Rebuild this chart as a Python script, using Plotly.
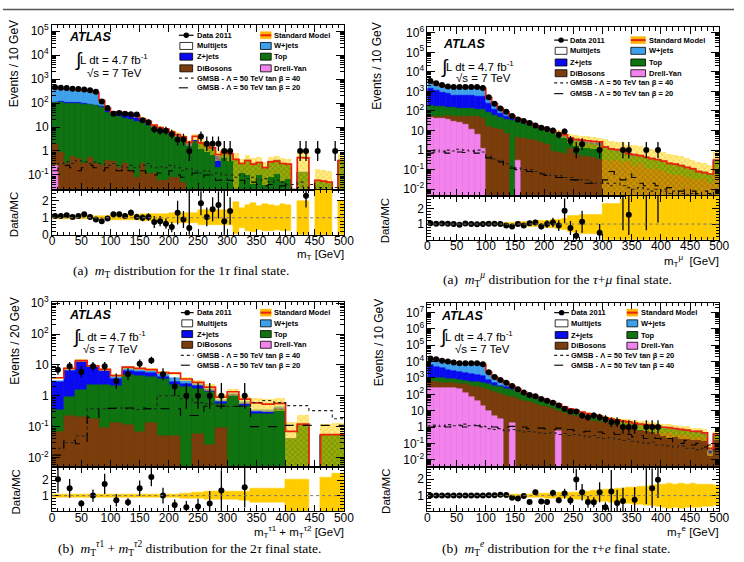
import numpy as np
import plotly.graph_objects as go

W, H = 744, 562
FONT = "Liberation Sans, Arial, sans-serif"
SERIF = "Liberation Serif, Times New Roman, serif"

C_DY = "#F283EE"
C_DB = "#7A3D0B"
C_TOP = "#0F730F"
C_Z = "#0A0AF0"
C_W = "#3E9FEA"
C_MJ = "#FFFFFF"
C_RED = "#E8230A"
C_BAND = "#FFCC00"

# ---------------- Panel 1 : m_T, 1 tau (10 GeV bins) ----------------
p1_dy = [0.25] + [0] * 49
p1_db = [1.6, 0.85, 0.3, 0.6, 0.5, 0.3, 0.55, 0.3, 0.25, 0.4,
         0.35, 0.2, 0.3, 0.15, 0.08, 0.3, 0.11, 0.11, 0.06, 0.06,
         0.08, 0.08, 0.05] + [0] * 27
p1_top = [103, 109, 100, 96, 96, 88, 84, 77, 66, 41,
          32, 28, 23, 20, 17, 14.7, 12, 9.3, 7.4, 6.4,
          4.9, 3.9, 3.2, 1.6, 2.5, 2.0, 1.5, 1.2, 0.2, 0.85,
          0.7, 0.45, 0.3, 0.4, 0.28, 0.33, 0.2, 0.35, 0.38, 0.3,
          0.28, 0, 0.13, 0.12, 0, 0.06, 0.055, 0.05, 0, 0.4]
p1_z = [4, 4, 4, 4, 4, 4, 4, 4, 5, 9,
        8, 10, 13, 12, 11, 6, 4, 2, 1.5, 1.3,
        0.8, 0.5, 0.3, 0.4, 0.2, 0.1, 0.1, 0.05, 0.4, 0.05] + [0] * 20
p1_w = [310, 285, 275, 270, 250, 240, 225, 190, 55, 8,
        2, 2, 2, 2, 1.5, 0.5, 0.5, 0.3, 0.2, 0.2,
        0.2, 0.1, 0.1, 0.1, 0.1] + [0] * 25
p1_mj = [5, 5, 5, 5, 5, 5, 5, 5, 3, 2,
         1, 1, 1, 1, 1, 0.5, 0.5, 0.3, 0.3, 0.3,
         0.3, 0.2, 0.2, 0.2, 1.3, 0.1, 0.1, 0.1, 0.1, 0.1,
         0.05, 0, 0, 0, 0, 0, 0, 0, 0, 0,
         0, 0, 0.4, 0.4, 0, 0, 0, 0, 0, 0]
p1_data = [460, 440, 430, 400, 385, 370, 345, 300, 117, 63,
           36, 39, 36, 34, 33, 19, 16, 8, 7, 7,
           5, 3, 3, 1, 0, 4, 2, 2, 2, 1,
           1, 0, 0, 0, 0, 0, 0, 0, 0, 0,
           0, 0, 1, 1, 0, 1, 0, 0, 1, 0]
p1_err = ([0.08] * 10 + [0.15] * 5 + [0.2] * 5 + [0.3] * 5 + [0.45] * 6 +
          [0.95, 0.6, 0.75, 0.85, 0.7, 0.8, 0.75, 0.7, 0.8, 0.75] +
          [0, 1.0, 1.0, 0, 2.0, 2.0, 2.0, 0, 1.0])
p1_ratio = ([1.1, 1.1, 1.15, 1.05, 1.1, 1.2, 1.05, 0.9, 0.8, 0.95,
             1.2, 1.2, 1.1, 1.3, 1.05, 1.0, 1.05, 0.75, 0.8, 0.65,
             0.45, 1.3, 0.9, 0.4, None, 1.85, 1.05, 1.5, 1.75, 0.8,
             1.4] + [None] * 12 + [2.3] + [None] * 6)
p1_rerr = ([0.05, 0.05, 0.05, 0.05, 0.06, 0.06, 0.06, 0.06, 0.08, 0.1,
            0.15, 0.15, 0.15, 0.18, 0.18, 0.2, 0.22, 0.35, 0.3, 0.3,
            0.3, 0.7, 0.5, 2.2, 0, 0.7, 0.55, 0.7, 0.8, 1.8,
            0.8] + [0] * 12 + [0.7] + [0] * 6)
p1_sig_a = [0.25, 0.3, 0.35, 0.3, 0.4, 0.35, 0.3, 0.35, 0.3, 0.25,
            0.3, 0.25, 0.2, 0.25, 0.2, 0.25, 0.3, 0.2, 0.22, 0.2,
            0.25, 0.2, 0.15, 0.18, 0.15, 0.12, 0.15, 0.1, 0.12, 0.1,
            0.1, 0.08, 0.1, 0.07, 0.08, 0.06, 0.07, 0.05, 0.06, 0.05,
            0.04, 0.04, 0.05, 0.03, 0.04, 0.03, 0.03, 0.02, 0.03, 0.02]
p1_sig_b = [0.15, 0.2, 0.25, 0.2, 0.15, 0.2, 0.25, 0.2, 0.15, 0.2,
            0.18, 0.15, 0.2, 0.15, 0.12, 0.15, 0.12, 0.1, 0.12, 0.1,
            0.15, 0.1, 0.08, 0.1, 0.12, 0.08, 0.1, 0.07, 0.06, 0.08,
            0.06, 0.05, 0.06, 0.04, 0.05, 0.04, 0.035, 0.04, 0.03, 0.035,
            0.03, 0.025, 0.03, 0.02, 0.025, 0.02, 0.02, 0.015, 0.02, 0.015]

# ---------------- Panel 2 : m_T^mu, tau+mu (10 GeV bins) ----------------
p2_dy = [45, 42, 40, 38, 30, 25, 20, 12, 6, 1.2, 0, 0, 0, 0, 0, 0.3] + [0] * 34
p2_db = [10, 12, 14, 18, 25, 30, 35, 40, 45, 40,
         16, 13, 11, 7.5, 0, 4.3, 3.8, 3.4, 3, 2.5,
         2, 0.9, 0.8, 0.7, 1.2, 0.6, 0.5, 0.5, 0.4, 0.35,
         0.3, 0.25, 0.3, 0.2, 0.25, 0.15, 0.2, 0.12, 0.1, 0.1,
         0.08, 0.06, 0.05, 0.05, 0.04, 0.03, 0.03, 0.03, 0.02, 0.05]
p2_top = [135, 126, 116, 104, 95, 85, 80, 78, 74, 79,
          64, 47, 34, 30, 32, 22, 18, 15, 11, 8.5,
          7, 6.6, 5.2, 3.8, 2.1, 2.2, 2.0, 1.7, 1.6, 1.45,
          0.9, 0.75, 0.6, 0.6, 0.35, 0.35, 0.25, 0.28, 0.25, 0.2,
          0.17, 0.14, 0.13, 0.1, 0.08, 0.07, 0.05, 0.04, 0.04, 0.25]
p2_z = [1210, 920, 730, 590, 500, 480, 465, 470, 455, 430,
        170, 60, 30, 17, 10, 7, 5, 3, 2, 1.5,
        1, 1, 0.8, 0.7, 0.4, 0.4, 0.3, 0.3, 0.3, 0.3,
        0.1, 0.08, 0.06, 0.05, 0.05, 0.04, 0.03, 0.03, 0.02, 0.02,
        0.02, 0.01, 0.01, 0.01, 0.01, 0.01, 0, 0, 0, 0.01]
p2_w = [1570, 1325, 1080, 935, 985, 1015, 1035, 1035, 1055, 885,
        225, 107, 58, 32, 13, 6.5, 3.7, 2.7, 1.8, 1.8,
        1.8, 0.9, 0.6, 0.7, 0.4, 0.25, 0.35, 0.45, 0.45, 0.45,
        0.15, 0.08, 0.1, 0.15, 0, 0.05, 0.04, 0, 0, 0] + [0] * 10
p2_mj = [30, 25, 20, 15, 15, 15, 15, 15, 15, 15,
         5, 3, 2, 1, 1, 0.5, 0.3, 0.3, 0.2, 0.2,
         0.2, 0.1, 0.1, 0.1, 0.1, 0.05, 0.05, 0.05, 0.05, 0.05] + [0] * 20
p2_data = [3400, 2600, 2100, 1800, 1700, 1700, 1700, 1700, 1700, 1500,
           500, 235, 133, 90, 55, 37, 31, 24, 18, 14,
           12, 10, 6, 9, 3, 1, 2, 0, 0, 1,
           0, 0, 0, 1, 1, 0, 0, 1, 0, 1] + [0] * 10
p2_err = ([0.04] * 10 +
          [0.06, 0.07, 0.08, 0.1, 0.1, 0.12, 0.14, 0.16, 0.18, 0.2,
           0.22, 0.25, 0.28, 0.35, 0.5, 0.55, 0.6, 0.6, 0.6, 0.6] +
          [1.3, 1.3, 1.3, 1.6] + [1.8] * 16)
p2_ratio = ([1.05, 1.02, 1.03, 1.02, 1.0, 0.95, 1.03, 1.0, 0.98, 1.0,
             1.02, 1.02, 1.0, 0.9, 0.85, 1.0, 0.9, 1.05, 1.1, 0.85,
             1.0, 1.1, 0.9, 1.85, 0.75, 0.25, 1.15, None, None, 0.45,
             None, None, None, 3.5, 1.6, None, None, 3.5, None, 3.5] + [None] * 10)
p2_rerr = ([0.02] * 10 +
           [0.04, 0.05, 0.06, 0.07, 0.08, 0.12, 0.14, 0.16, 0.18, 0.2,
            0.25, 0.3, 0.35, 0.8, 0.45, 0.35, 0.7, 0, 0, 0.55,
            0, 0, 0, 2.9, 1.3, 0, 0, 2.9, 0, 2.4] + [0] * 10)
p2_sig_a = [0.9, 1.0, 0.8, 1.0, 0.9, 1.1, 1.0, 0.9, 1.0, 0.8,
            0.5, 0.35, 0.3, 0.2, 0.15, 0.12, 0.1, 0.1, 0.08, 0.07,
            0.06, 0.05, 0.05, 0.04, 0.04, 0.03, 0.03, 0.03, 0.02, 0.02,
            0.02, 0.015, 0.02, 0.015, 0.012, 0.01, 0.012, 0.01, 0.008, 0.01,
            0.008, 0.006, 0.008, 0.006, 0.005, 0.006, 0.005, 0.004, 0.005, 0.004]
p2_sig_b = [0.7, 0.8, 0.9, 0.7, 0.85, 0.8, 0.75, 0.9, 0.7, 0.6,
            0.4, 0.3, 0.25, 0.15, 0.12, 0.1, 0.1, 0.08, 0.07, 0.06,
            0.05, 0.05, 0.04, 0.04, 0.03, 0.03, 0.03, 0.02, 0.02, 0.02,
            0.03, 0.08, 0.05, 0.03, 0.06, 0.04, 0.02, 0.015, 0.02, 0.015,
            0.01, 0.012, 0.01, 0.008, 0.01, 0.008, 0.006, 0.008, 0.006, 0.005]

# ---------------- Panel 3 : m_T1 + m_T2, 2 tau (20 GeV bins) ----------------
p3_dy = [0] * 25
p3_db = [0.07, 0.23, 0.2, 0.18, 0.09, 0.13, 0.11, 0.07, 0.13, 0.05,
         0.05, 0, 0.06, 0.025, 0.09] + [0] * 10
p3_top = [0.27, 0.67, 1.4, 2.1, 2.2, 2.0, 4.7, 4.4, 3.9, 3.35,
          2.25, 2.0, 1.55, 1.28, 0.46, 1.0, 0.48, 0.26, 0.26, 0.34,
          0.04, 0.11, 0, 0.055, 0.055]
p3_z = [2.4, 5.3, 11, 6.1, 4.2, 1.5, 1.7, 1.5, 1.3, 0.8,
        0.6, 0.5, 0.4, 0.2, 0.1, 0.05, 0.05, 0.03, 0.03, 0.03,
        0, 0, 0, 0, 0]
p3_w = [0.3, 0.8, 0.8, 0.6, 0.5, 0.6, 1.5, 1.2, 1.2, 0.9,
        1.0, 0.5, 0.4, 0.2, 0.1, 0.1, 0.1, 0.05, 0.05, 0.05,
        0, 0, 0, 0, 0]
p3_mj = [0.8, 0.7, 0.3, 0.3, 0.2, 0.3, 0.5, 0.5, 0.5, 0.5,
         1.5, 0.5, 0.3, 0.2, 0.15, 0.2, 0.15, 0.25, 0.2, 0.15,
         0.03, 0.01, 0, 0, 0]
p3_data = [7, 9, 6, 9, 9, 3, 5, 11, 14, 5, 2, 1, 1, 1, 1, 0, 1, 0, 0, 0, 0, 0, 0, 0, 0]
p3_err = [0.1] * 11 + [0.15, 0.2, 0.25, 0.25, 0.25, 0.3, 0.45, 0.45, 0.45] + [1.05, 1.05, 0, 1.2, 1.4]
p3_ratio = [2.05, 1.47, 0.5, 1.0, 1.75, 0.7, 0.58, 1.47, 2.2, 1.0,
            0.4, 0.25, 0.3, 0.5, 1.32, None, 1.53] + [None] * 8
p3_rerr = [0.85, 0.6, 0.2, 0.4, 0.65, 0.4, 0.25, 0.5, 0.6, 0.5,
           0.35, 0.4, 0.5, 0.8, 1.3, 0, 1.3] + [0] * 8
p3_sig_a = [0.02, 0.03, 0.05, 0.38, 0.38, 0.4, 0.38, 0.36, 0.38, 1.0,
            1.0, 0.8, 0.6, 0.55, 0.5, 0.45, 0.45, 0.6, 0.7, 0.6,
            0.48, 0.48, 0.33, 0.33, 0.18]
p3_sig_b = [0.012, 0.035, 0.028, 0.2, 0.39, 0.39, 0.4, 0.4, 0.38, 0.38,
            0.38, 0.23, 0.23, 0.46, 0.46, 0.46, 0.46, 0.1, 0.1, 0.1,
            0.11, 0.11, 0.11, 0.11, 0.11]

# ---------------- Panel 4 : m_T^e, tau+e (10 GeV bins) ----------------
p4_dy = [250, 250, 250, 250, 240, 200, 130, 65, 40, 20,
         10, 5, 3, 0, 1.7, 0, 0, 0, 0, 0, 0, 0, 0.55] + [0] * 27
p4_db = [310, 290, 270, 250, 240, 250, 290, 265, 260, 230,
         170, 135, 107, 85, 63, 50, 40, 32, 26, 20,
         16, 12, 9, 7, 5.5, 4.5, 3.6, 3, 2.5, 2.1,
         1.8, 1.3, 1.3, 0.9, 0.9, 0.7, 0.55, 0.6, 0.45, 0.5,
         0.4, 0.45, 0.3, 0.35, 0.3, 0.2, 0.25, 0.2, 0.02, 0.15]
p4_top = [490, 460, 430, 400, 370, 350, 280, 270, 250, 230,
          240, 190, 160, 140, 115, 85, 60, 38, 29, 20,
          16, 12, 8.5, 6, 4.5, 3.2, 2.6, 2.0, 1.7, 1.5,
          1.4, 1.4, 1.1, 1.1, 0.9, 0.8, 0.75, 0.6, 0.55, 0.45,
          0.45, 0.35, 0.4, 0.25, 0.25, 0.25, 0.2, 0.15, 0, 0.15]
p4_z = [4950, 4000, 3050, 2400, 1950, 1500, 1300, 1100, 950, 820,
        350, 150, 80, 50, 35, 25, 18, 13, 10, 8,
        6, 5, 4, 3, 2.2, 1.6, 1.2, 1.0, 0.9, 0.6,
        0.3, 0.25, 0.2, 0.2, 0.15, 0.15, 0.12, 0.1, 0.1, 0.08,
        0.07, 0.07, 0.06, 0.06, 0.05, 0.05, 0.04, 0.04, 0.02, 0.03]
p4_w = [9400, 8500, 7400, 6600, 5900, 5600, 5800, 6100, 6200, 5300,
        1530, 670, 390, 235, 115, 50, 17, 12, 10, 7,
        4, 3, 2, 1, 0.8, 0.7, 0.6, 0.5, 0.4, 0.3,
        0.1, 0.1, 0.1, 0.1, 0.1, 0.1, 0.1, 0.1, 0.1, 0.1,
        0.05, 0.05, 0.05, 0.05, 0.05, 0.05, 0.05, 0.05, 0.01, 0.05]
p4_mj = [100] * 10 + [20, 10, 8, 5, 3, 2, 1, 0.5, 0.4, 0.3,
                      0.2, 0.2, 0.1, 0.1, 0.1, 0.1, 0.1, 0.1, 0.05, 0.05] + [0] * 20
p4_data = [15700, 13700, 11400, 10000, 8700, 7900, 7900, 7900, 7900, 6900,
           2200, 1150, 740, 510, 325, 205, 130, 90, 75, 52,
           41, 30, 21, 13, 9, 9, 5, 4, 5, 4,
           3, 2, 2, 1, 1, 1, 0, 1, 1, 1] + [0] * 10
p4_err = ([0.02] * 14 + [0.08, 0.08, 0.1, 0.1, 0.12, 0.12, 0.14] +
          [0.15, 0.17, 0.18, 0.2, 0.22, 0.25, 0.27, 0.3, 0.32, 0.35] +
          [0.38, 0.42, 0.45, 0.48, 0.5, 0.55, 0.58, 0.6, 0.65, 0.7] +
          [0.75, 0.7, 0.75, 0.7, 0.72, 0.7, 0.68, 0.65, 0.6])
p4_ratio = ([1.0] * 10 +
            [1.02, 1.02, 1.05, 1.03, 0.87, 0.83, 0.98, 0.62, 1.2, 0.65,
             0.62, 1.15, 0.72, 1.12, 0.7, 1.97, 1.2, 0.62, 0.6, 1.2,
             0.3, 1.25, 0.55, 0.68, None, 0.75, None, 3.5, 1.45, 1.95] + [None] * 10)
p4_rerr = ([0.02] * 10 +
           [0.03, 0.03, 0.04, 0.05, 0.08, 0.1, 0.12, 0.1, 0.15, 0.12,
            0.15, 0.2, 0.18, 0.3, 0.25, 0.65, 0.5, 0.35, 0.3, 0.6,
            0.3, 1.3, 0.8, 0.8, 0, 0.75, 0, 3.0, 1.2, 1.1] + [0] * 10)
p4_sig_a = [1.2, 1.3, 1.1, 1.4, 1.2, 1.3, 1.5, 1.2, 1.3, 1.1,
            0.8, 0.7, 0.8, 0.6, 0.7, 0.6, 0.5, 0.55, 0.5, 0.45,
            0.4, 0.45, 0.35, 0.4, 0.3, 0.35, 0.3, 0.25, 0.3, 0.22,
            0.2, 0.22, 0.18, 0.15, 0.18, 0.13, 0.12, 0.1, 0.12, 0.08,
            0.08, 0.07, 0.06, 0.07, 0.05, 0.05, 0.04, 0.05, 0.03, 0.04]
p4_sig_b = [1.0, 1.1, 1.2, 1.0, 1.1, 1.2, 1.0, 1.1, 1.2, 1.0,
            1.1, 1.0, 0.9, 1.0, 1.1, 0.9, 1.0, 0.8, 0.9, 0.85,
            0.8, 0.7, 0.85, 0.6, 0.7, 0.6, 0.5, 0.55, 0.45, 0.5,
            0.4, 0.45, 0.35, 0.3, 0.35, 0.25, 0.3, 0.2, 0.25, 0.2,
            0.15, 0.2, 0.12, 0.1, 0.15, 0.08, 0.1, 0.06, 0.08, 0.05]

x_tick_labels = ["0", "50", "100", "150", "200", "250", "300", "350", "400", "450", "500"]
legend_labels = ["Data 2011", "Standard Model", "Multijets", "W+jets", "Z+jets", "Top",
                 "DiBosons", "Drell-Yan"]

GMSB = "GMSB - Λ = 50 TeV tan β = "

panels = [
    dict(L=50, R=347, T=17, M=187, B=233, yr=[-1.63, 5.28], dec=(-1, 5), rr=[0, 2.63], rt=[0, 1, 2],
         dy=p1_dy, db=p1_db, top=p1_top, z=p1_z, w=p1_w, mj=p1_mj, data=p1_data, err=p1_err,
         ratio=p1_ratio, rerr=p1_rerr, sa=p1_sig_a, sb=p1_sig_b, la="40", lb="20",
         ytitle="Events / 10 GeV", ytx=12, yty=57, rtx=12, rty=212,
         xtitle="m<sub>T</sub> [GeV]", xty=254,
         cap="(a)  <i>m</i><sub>T</sub> distribution for the 1<i>τ</i> final state.", capx=181, capy=271,
         rows=[11, 22, 33, 45, 55, 65], c1=(130, 143, 146), c2=(212, 223, 225),
         atl=(16, 13), integ=(22, 35), ldt=(27, 35), rs=(34, 50)),
    dict(L=432, R=729, T=20, M=193, B=238, yr=[-2.34, 6.27], dec=(-2, 6), rr=[0, 2.81], rt=[1, 2],
         dy=p2_dy, db=p2_db, top=p2_top, z=p2_z, w=p2_w, mj=p2_mj, data=p2_data, err=p2_err,
         ratio=p2_ratio, rerr=p2_rerr, sa=p2_sig_a, sb=p2_sig_b, la="40", lb="20",
         ytitle="Events / 10 GeV", ytx=381, yty=60, rtx=389, rty=219,
         xtitle="m<sub>T</sub><sup>μ</sup>  [GeV]", xty=260,
         cap="(a)  <i>m</i><sub>T</sub><sup><i>μ</i></sup> distribution for the <i>τ</i>+<i>μ</i> final state.",
         capx=564, capy=279,
         rows=[13, 24, 36, 47, 57, 68], c1=(130, 142, 144), c2=(207, 222, 224),
         atl=(15, 17), integ=(13, 40), ldt=(18, 40), rs=(28, 52)),
    dict(L=50, R=347, T=302, M=472, B=517, yr=[-2.32, 3.04], dec=(-2, 3), rr=[0, 2.81], rt=[1, 2],
         dy=p3_dy, db=p3_db, top=p3_top, z=p3_z, w=p3_w, mj=p3_mj, data=p3_data, err=p3_err,
         ratio=p3_ratio, rerr=p3_rerr, sa=p3_sig_a, sb=p3_sig_b, la="40", lb="20",
         ytitle="Events / 20 GeV", ytx=12, yty=342, rtx=13, rty=497,
         xtitle="m<sub>T</sub><sup>τ1</sup> + m<sub>T</sub><sup>τ2</sup> [GeV]", xty=538,
         cap="(b)  <i>m</i><sub>T</sub><sup><i>τ</i>1</sup> + <i>m</i><sub>T</sub><sup><i>τ</i>2</sup> distribution for the 2<i>τ</i> final state.",
         capx=190, capy=555,
         rows=[11, 22, 33, 44, 55, 65], c1=(132, 143, 146), c2=(212, 223, 225),
         atl=(16, 13), integ=(20, 35), ldt=(25, 35), rs=(30, 48)),
    dict(L=432, R=729, T=303, M=472, B=517, yr=[-2.47, 7.59], dec=(-2, 7), rr=[0.06, 2.7], rt=[1, 2],
         dy=p4_dy, db=p4_db, top=p4_top, z=p4_z, w=p4_w, mj=p4_mj, data=p4_data, err=p4_err,
         ratio=p4_ratio, rerr=p4_rerr, sa=p4_sig_a, sb=p4_sig_b, la="20", lb="40",
         ytitle="Events / 10 GeV", ytx=382, yty=344, rtx=390, rty=497,
         xtitle="m<sub>T</sub><sup>e</sup> [GeV]", xty=538,
         cap="(b)  <i>m</i><sub>T</sub><sup><i>e</i></sup> distribution for the <i>τ</i>+<i>e</i> final state.",
         capx=563, capy=555,
         rows=[10, 21, 33, 44, 54, 64], c1=(130, 143, 145), c2=(203, 214, 216),
         atl=(13, 13), integ=(12, 34), ldt=(17, 34), rs=(27, 47)),
]


def px(x):
    return x / W


def py(y):
    return 1 - y / H


def axname(n, letter):
    return f"{letter}axis" if n == 1 else f"{letter}axis{n}"


def axref(n, letter):
    return letter if n == 1 else f"{letter}{n}"


fig = go.Figure()
annotations = []
shapes = []
layout_axes = {}


def txt(x, y, s, size, xanchor="left", yanchor="middle", family=FONT, angle=0):
    annotations.append(dict(x=px(x), y=py(y), xref="paper", yref="paper", text=s, showarrow=False,
                            xanchor=xanchor, yanchor=yanchor, textangle=angle, borderpad=0,
                            font=dict(size=size, family=family, color="black")))


def rect(x0, y0, x1, y1, fill, line="black", lw=0.8):
    shapes.append(dict(type="rect", xref="paper", yref="paper", x0=px(x0), x1=px(x1),
                       y0=py(y1), y1=py(y0), fillcolor=fill, line=dict(color=line, width=lw)))


def hline(x0, x1, y, color, w, dash="solid"):
    shapes.append(dict(type="line", xref="paper", yref="paper", x0=px(x0), x1=px(x1),
                       y0=py(y), y1=py(y), line=dict(color=color, width=w, dash=dash)))


common = dict(showline=True, linecolor="black", linewidth=1, mirror="ticks", ticks="inside",
              tickcolor="black", tickwidth=1, showgrid=False, zeroline=False,
              tickfont=dict(family=FONT, size=12, color="black"))

for k, P in enumerate(panels):
    n1, n2 = 2 * k + 1, 2 * k + 2
    xm, ym, xr, yr = axref(n1, "x"), axref(n1, "y"), axref(n2, "x"), axref(n2, "y")
    nb = len(P["data"])
    for key in ["dy", "db", "top", "z", "w", "mj", "err", "ratio", "rerr", "sa", "sb"]:
        assert len(P[key]) == nb, (k, key, len(P[key]))
    bw = 500.0 / nb
    centers = [bw * (i + 0.5) for i in range(nb)]
    edges = [bw * i for i in range(nb + 1)]
    comps = np.array([P["dy"], P["db"], P["top"], P["z"], P["w"], P["mj"]], float)
    levels = np.cumsum(comps, axis=0)
    total = levels[-1]
    cols = [C_DY, C_DB, C_TOP, C_Z, C_W, C_MJ]
    # stacked histograms (cumulative, drawn from the top level down)
    for j in range(5, -1, -1):
        yv = [float(v) if v > 0 else None for v in levels[j]]
        fig.add_trace(go.Bar(x=centers, y=yv, width=bw, xaxis=xm, yaxis=ym,
                             marker=dict(color=cols[j], line=dict(width=0.5, color=cols[j])),
                             showlegend=False, hoverinfo="skip"))
    # SM uncertainty band
    err = np.array(P["err"], float)
    bb, bh, rb, rh = [], [], [], []
    for t, e in zip(total, err):
        if t > 0 and e > 0:
            lo = max(t * (1 - e), 1e-7)
            bb.append(lo)
            bh.append(t * (1 + e) - lo)
            rb.append(1 - e)
            rh.append(2 * e)
        else:
            bb.append(None); bh.append(None); rb.append(None); rh.append(None)
    fig.add_trace(go.Bar(x=centers, y=bh, base=bb, width=bw, xaxis=xm, yaxis=ym,
                         marker=dict(color="rgba(255,214,0,0.45)", line=dict(width=0),
                                     pattern=dict(shape="x", fgcolor="#FFBE00", size=4,
                                                  solidity=0.35, fillmode="overlay")),
                         showlegend=False, hoverinfo="skip"))
    # SM total line
    ys = [float(t) if t > 0 else 1e-9 for t in total]
    ys.append(ys[-1])
    fig.add_trace(go.Scatter(x=edges, y=ys, mode="lines", xaxis=xm, yaxis=ym,
                             line=dict(color=C_RED, width=1.7, shape="hv"),
                             showlegend=False, hoverinfo="skip"))
    # GMSB signals
    for sig, dash, col in [(P["sa"], "dot", "#222222"), (P["sb"], "dash", "black")]:
        sy = list(map(float, sig)) + [float(sig[-1])]
        fig.add_trace(go.Scatter(x=edges, y=sy, mode="lines", xaxis=xm, yaxis=ym,
                                 line=dict(color=col, width=1.1, dash=dash, shape="hv"),
                                 showlegend=False, hoverinfo="skip"))
    # data
    d = np.array(P["data"], float)
    idx = [i for i in range(nb) if d[i] > 0]
    fig.add_trace(go.Scatter(
        x=[centers[i] for i in idx], y=[d[i] for i in idx], mode="markers",
        xaxis=xm, yaxis=ym, marker=dict(color="black", size=6),
        error_y=dict(type="data", symmetric=False,
                     array=[float(np.sqrt(d[i] + 0.25) + 0.5) for i in idx],
                     arrayminus=[float(np.sqrt(d[i] + 0.25) - 0.5) for i in idx],
                     color="black", thickness=1.3, width=0),
        showlegend=False, hoverinfo="skip"))
    # ratio panel
    fig.add_trace(go.Bar(x=centers, y=rh, base=rb, width=bw, xaxis=xr, yaxis=yr,
                         marker=dict(color=C_BAND, line=dict(width=0.5, color=C_BAND)),
                         showlegend=False, hoverinfo="skip"))
    shapes.append(dict(type="line", xref=xr, yref=yr, x0=0, x1=500, y0=1, y1=1,
                       line=dict(color="#777777", width=1, dash="dot")))
    ridx = [i for i in range(nb) if P["ratio"][i] is not None]
    fig.add_trace(go.Scatter(
        x=[centers[i] for i in ridx], y=[P["ratio"][i] for i in ridx], mode="markers",
        xaxis=xr, yaxis=yr, marker=dict(color="black", size=6),
        error_y=dict(type="data", array=[P["rerr"][i] for i in ridx], color="black",
                     thickness=1.3, width=0),
        showlegend=False, hoverinfo="skip"))

    # axes
    L, R, T, M, B = P["L"], P["R"], P["T"], P["M"], P["B"]
    e0, e1 = P["dec"]
    tv = [10.0 ** e for e in range(e0, e1 + 1)]
    tt = ["1" if e == 0 else ("10" if e == 1 else f"10<sup>{e}</sup>") for e in range(e0, e1 + 1)]
    mv = [m * 10.0 ** e for e in range(e0 - 1, e1 + 1) for m in range(2, 10)]
    layout_axes[axname(n1, "x")] = dict(common, domain=[px(L), px(R)], range=[0, 500],
                                        anchor=ym, showticklabels=False, tickmode="linear",
                                        tick0=0, dtick=50, ticklen=7,
                                        minor=dict(ticks="inside", ticklen=3.5, tickmode="linear",
                                                   tick0=0, dtick=10, tickcolor="black"))
    layout_axes[axname(n1, "y")] = dict(common, domain=[py(M), py(T)], type="log", range=P["yr"],
                                        anchor=xm, tickmode="array", tickvals=tv, ticktext=tt,
                                        ticklen=8,
                                        minor=dict(ticks="inside", ticklen=4, tickmode="array",
                                                   tickvals=mv, tickcolor="black"))
    layout_axes[axname(n2, "x")] = dict(common, domain=[px(L), px(R)], range=[0, 500],
                                        anchor=yr, tickmode="array",
                                        tickvals=[50 * i for i in range(11)], ticktext=x_tick_labels,
                                        ticklen=6, ticklabelstandoff=-5,
                                        minor=dict(ticks="inside", ticklen=3, tickmode="linear",
                                                   tick0=0, dtick=10, tickcolor="black"))
    layout_axes[axname(n2, "y")] = dict(common, domain=[py(B), py(M)], range=P["rr"], anchor=xr,
                                        tickmode="array", tickvals=P["rt"],
                                        ticktext=[str(v) for v in P["rt"]], ticklen=7,
                                        minor=dict(ticks="inside", ticklen=3.5, tickmode="linear",
                                                   tick0=0, dtick=0.2, tickcolor="black"))

    # titles and captions
    txt(P["ytx"], P["yty"], P["ytitle"], 12, xanchor="center", angle=-90)
    txt(P["rtx"], P["rty"], "Data/MC", 11.5, xanchor="center", angle=-90)
    txt(R + 1, P["xty"], P["xtitle"], 11.5, xanchor="right")
    txt(P["capx"], P["capy"], P["cap"], 13.5, xanchor="center", family=SERIF)

    # ATLAS label and luminosity
    txt(L + P["atl"][0], T + P["atl"][1], "<b><i>ATLAS</i></b>", 12.5)
    txt(L + P["integ"][0], T + P["integ"][1] + 1, "∫", 19)
    txt(L + P["ldt"][0], T + P["ldt"][1], "L dt = 4.7 fb<sup>-1</sup>", 11.5)
    txt(L + P["rs"][0], T + P["rs"][1], "√s = 7 TeV", 11.5)

    # legend
    rows = [T + r for r in P["rows"]]
    b10, b11, t1 = L + P["c1"][0], L + P["c1"][1], L + P["c1"][2]
    b20, b21, t2 = L + P["c2"][0], L + P["c2"][1], L + P["c2"][2]
    hb = 3.6
    hline(b10 - 1, b11 + 1, rows[0], "black", 1.2)
    shapes.append(dict(type="circle", xref="paper", yref="paper",
                       x0=px((b10 + b11) / 2 - 2.8), x1=px((b10 + b11) / 2 + 2.8),
                       y0=py(rows[0] + 2.8), y1=py(rows[0] - 2.8),
                       fillcolor="black", line=dict(color="black", width=0)))
    rect(b20, rows[0] - hb, b21, rows[0] + hb, "#FFB400", line="#FFB400", lw=0.5)
    hline(b20, b21, rows[0], C_RED, 2)
    fills = [(C_MJ, C_W), (C_Z, C_TOP), (C_DB, C_DY)]
    for r in range(3):
        rect(b10, rows[r + 1] - hb, b11, rows[r + 1] + hb, fills[r][0])
        rect(b20, rows[r + 1] - hb, b21, rows[r + 1] + hb, fills[r][1])
    for r in range(4):
        txt(t1, rows[r], "<b>" + legend_labels[2 * r] + "</b>", 7.5)
        txt(t2, rows[r], "<b>" + legend_labels[2 * r + 1] + "</b>", 7.5)
    hline(b10 - 1, b11 + 1, rows[4], "#222222", 1.2, "dot")
    hline(b10 - 1, b11 + 1, rows[5], "black", 1.1, "dash")
    txt(t1, rows[4], "<b>" + GMSB + P["la"] + "</b>", 7.5)
    txt(t1, rows[5], "<b>" + GMSB + P["lb"] + "</b>", 7.5)

# top rule
shapes.append(dict(type="line", xref="paper", yref="paper", x0=0, x1=1, y0=py(1.5), y1=py(1.5),
                   line=dict(color="#555555", width=1.5)))

fig.update_layout(width=W, height=H, margin=dict(l=0, r=0, t=0, b=0),
                  paper_bgcolor="white", plot_bgcolor="white",
                  barmode="overlay", bargap=0, showlegend=False,
                  annotations=annotations, shapes=shapes, **layout_axes)

fig.write_html("out.html")
